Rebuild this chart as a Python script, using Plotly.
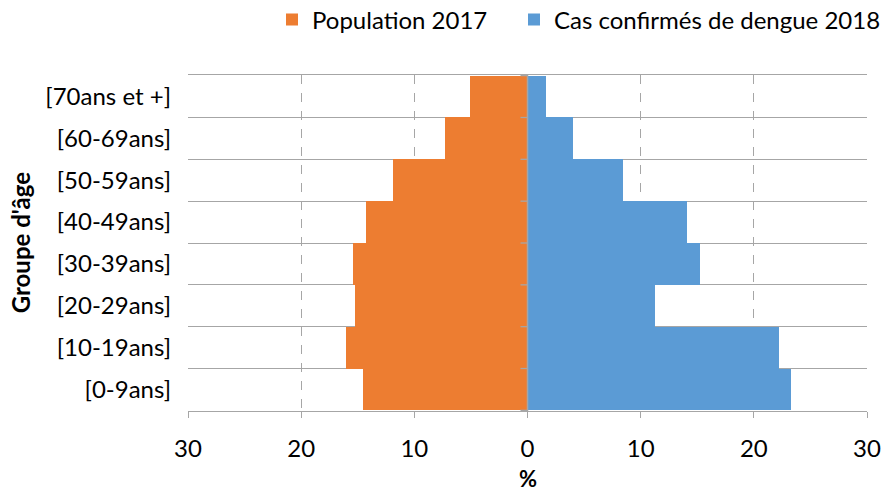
import plotly.graph_objects as go

age_groups = ["[0-9ans]", "[10-19ans]", "[20-29ans]", "[30-39ans]",
              "[40-49ans]", "[50-59ans]", "[60-69ans]", "[70ans et +]"]
population_2017 = [14.5, 16.0, 15.25, 15.4, 14.3, 11.85, 7.25, 5.05]
dengue_2018 = [23.3, 22.2, 11.3, 15.2, 14.1, 8.45, 4.0, 1.6]
x_tickvals = [-30, -20, -10, 0, 10, 20, 30]
x_ticktext = ["30", "20", "10", "0", "10", "20", "30"]

FONT = "Lato"
GRID = "#a6a6a6"
FS = 24
W, H = 884, 494

fig = go.Figure()
fig.add_trace(go.Bar(
    y=age_groups, x=[-v for v in population_2017], orientation="h",
    name="Population 2017", marker=dict(color="#ED7D31", line=dict(width=0)),
    customdata=population_2017, hovertemplate="%{y}: %{customdata}%<extra></extra>",
    legend="legend", showlegend=True,
))
fig.add_trace(go.Bar(
    y=age_groups, x=dengue_2018, orientation="h",
    name="Cas confirmés de dengue 2018", marker=dict(color="#5B9BD5", line=dict(width=0)),
    legend="legend2", showlegend=True,
))

# small tick marks on the vertical zero axis, at category boundaries
shapes = [dict(type="line", xref="x", yref="y", xsizemode="pixel", xanchor=0,
               x0=-7, x1=0, y0=i - 0.5, y1=i - 0.5,
               line=dict(color=GRID, width=1.3))
          for i in range(len(age_groups) + 1)]
shapes.append(dict(type="line", xref="x", yref="paper", x0=0, x1=0, y0=0, y1=1,
                   line=dict(color=GRID, width=1.5)))

legend_common = dict(orientation="h", xref="container", yref="container",
                     xanchor="left", yanchor="middle", y=1 - 20 / H,
                     font=dict(size=FS), borderwidth=0, bgcolor="rgba(0,0,0,0)",
                     visible=True)

fig.update_layout(
    width=W, height=H,
    showlegend=True,
    margin=dict(l=188, r=17, t=75, b=83),
    plot_bgcolor="white", paper_bgcolor="white",
    barmode="relative", bargap=0,
    font=dict(family=FONT, size=FS, color="#000000"),
    legend=dict(x=272 / W, **legend_common),
    legend2=dict(x=514 / W, **legend_common),
    xaxis=dict(range=[-30, 30], tickvals=x_tickvals, ticktext=x_ticktext,
               showgrid=True, gridcolor=GRID, griddash="dash", gridwidth=1.3,
               zeroline=False, showline=True, linecolor=GRID, linewidth=1.3, mirror=True,
               ticks="outside", ticklen=6, tickcolor=GRID, tickwidth=1.3,
               ticklabelstandoff=10, tickfont=dict(size=FS), automargin=False),
    yaxis=dict(type="category", categoryorder="array", categoryarray=age_groups,
               tickson="boundaries", showgrid=True, gridcolor=GRID, gridwidth=1.3,
               ticks="", showline=False, zeroline=False,
               ticklabelstandoff=16, tickfont=dict(size=FS), automargin=False),
    shapes=shapes,
    annotations=[
        dict(text="<b>Groupe d'âge</b>", xref="paper", yref="paper",
             x=-0.247, y=0.5, textangle=-90, showarrow=False,
             xanchor="center", yanchor="middle", font=dict(size=FS)),
        dict(text="<b>%</b>", xref="paper", yref="paper",
             x=0.5, y=-0.2, showarrow=False,
             xanchor="center", yanchor="middle", font=dict(size=22)),
    ],
)

fig.write_html("out.html", config={"displayModeBar": False},
               post_script="document.body.style.margin='0';")
